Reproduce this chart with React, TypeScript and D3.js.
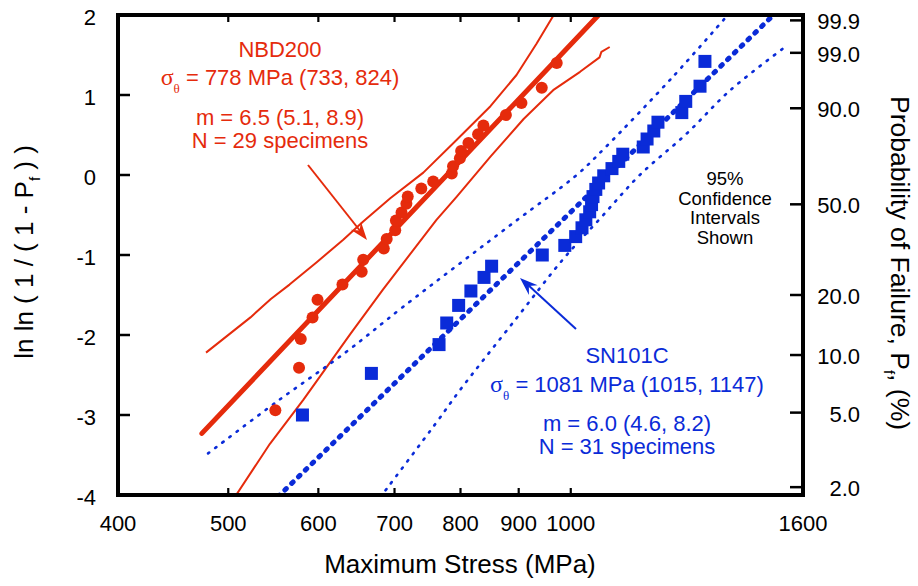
import React from 'react';
import * as d3 from 'd3';

// ---------- axes ----------
const xTickValues = [400, 500, 600, 700, 800, 900, 1000, 1600];
const yTickValues = [-4, -3, -2, -1, 0, 1, 2];
const probTickValues = [99.9, 99.0, 90.0, 50.0, 20.0, 10.0, 5.0, 2.0];

// ---------- NBD200 (red circles) : stress (MPa), ln ln(1/(1-Pf)) ----------
const nbdStress = [550, 577, 579, 593, 599, 630, 655, 657, 685, 689, 701, 702, 710, 717, 719, 739, 757, 786, 788, 799, 801, 813, 829, 838, 877, 905, 943, 972];
const nbdLnLn = [-2.94, -2.41, -2.05, -1.78, -1.56, -1.37, -1.21, -1.06, -0.92, -0.80, -0.69, -0.57, -0.47, -0.36, -0.27, -0.17, -0.08, 0.02, 0.11, 0.21, 0.30, 0.40, 0.51, 0.62, 0.75, 0.90, 1.09, 1.40];
const nbdFit: [number, number][] = [[474, -3.23], [1058, 2.0]];
const nbdUpper: [number, number][] = [[478, -2.22], [523, -1.78], [545, -1.55], [566, -1.37], [598, -1.09], [631, -0.81], [657, -0.58], [694, -0.29], [742, 0.03], [794, 0.44], [850, 0.86], [896, 1.25], [933, 1.64], [968, 2.02]];
const nbdLower: [number, number][] = [[507, -4.02], [544, -3.36], [582, -2.81], [640, -1.99], [684, -1.43], [762, -0.56], [794, -0.27], [850, 0.23], [909, 0.70], [965, 1.06], [1019, 1.29], [1060, 1.47], [1064, 1.54], [1082, 1.60]];

// ---------- SN101C (blue squares) ----------
const snStress = [581, 668, 766, 778, 797, 817, 839, 852, 944, 988, 1010, 1023, 1031, 1039, 1043, 1046, 1052, 1058, 1069, 1087, 1102, 1111, 1158, 1167, 1183, 1193, 1252, 1262, 1299, 1312];
const snLnLn = [-3.00, -2.48, -2.12, -1.85, -1.63, -1.45, -1.28, -1.14, -1.00, -0.88, -0.77, -0.66, -0.56, -0.46, -0.37, -0.27, -0.18, -0.10, -0.01, 0.08, 0.17, 0.26, 0.35, 0.45, 0.55, 0.66, 0.78, 0.92, 1.11, 1.42];
const snFit: [number, number][] = [[553, -4.02], [1512, 2.02]];
const snUpper: [number, number][] = [[480, -3.48], [552, -2.83], [635, -2.21], [712, -1.65], [890, -0.60], [1012, 0.0], [1070, 0.33], [1230, 1.23], [1380, 2.03]];
const snLower: [number, number][] = [[680, -4.03], [765, -3.06], [799, -2.69], [896, -1.79], [985, -1.05], [1065, -0.52], [1150, 0.0], [1265, 0.52], [1381, 1.06], [1543, 1.60]];

const W = 918;
const H = 586;
const M = { left: 118, right: 803, top: 15, bottom: 495 };
const RED = '#e52b0c';
const BLUE = '#0a2bd8';
const FONT = "'Liberation Sans', Arial, Helvetica, sans-serif";
const SERIF = "'Liberation Serif', 'DejaVu Serif', serif";

function arrowHead(tx: number, ty: number, fx: number, fy: number, len = 18, half = 6.5, notch = 12) {
  const dx = tx - fx, dy = ty - fy;
  const L = Math.hypot(dx, dy);
  const ux = dx / L, uy = dy / L;
  const px = -uy, py = ux;
  const bx = tx - ux * len, by = ty - uy * len;
  const nx = tx - ux * notch, ny = ty - uy * notch;
  return `M${tx},${ty} L${bx + px * half},${by + py * half} L${nx},${ny} L${bx - px * half},${by - py * half} Z`;
}

export default function App() {
  const x = d3.scaleLog().domain([400, 1600]).range([M.left, M.right]);
  const y = d3.scaleLinear().domain([-4, 2]).range([M.bottom, M.top]);
  const toLnLn = (p: number) => Math.log(-Math.log(1 - p / 100));

  const straight = d3.line<[number, number]>().x(d => x(d[0])).y(d => y(d[1]));
  const smooth = d3.line<[number, number]>().x(d => x(d[0])).y(d => y(d[1])).curve(d3.curveCatmullRom);

  const redArrow = { fx: 308, fy: 165, tx: 367, ty: 240 };
  const blueArrow = { fx: 576, fy: 329, tx: 520, ty: 278 };

  return (
    <svg width={W} height={H} style={{ position: 'absolute', left: 0, top: 0, background: '#fff' }} fontFamily={FONT}>
      <defs>
        <clipPath id="plotClip">
          <rect x={M.left} y={M.top} width={M.right - M.left} height={M.bottom - M.top} />
        </clipPath>
      </defs>
      <rect x={0} y={0} width={W} height={H} fill="#fff" />

      <g clipPath="url(#plotClip)">
        {/* confidence bands NBD200 */}
        <path d={straight(nbdUpper) || ''} fill="none" stroke={RED} strokeWidth={2} strokeLinejoin="round" />
        <path d={straight(nbdLower) || ''} fill="none" stroke={RED} strokeWidth={2} strokeLinejoin="round" />
        {/* fit NBD200 */}
        <path d={straight(nbdFit) || ''} fill="none" stroke={RED} strokeWidth={5} strokeLinecap="round" />
        {/* confidence bands SN101C */}
        <path d={smooth(snUpper) || ''} fill="none" stroke={BLUE} strokeWidth={2.6} strokeLinecap="round" strokeDasharray="1.5 7.5" />
        <path d={smooth(snLower) || ''} fill="none" stroke={BLUE} strokeWidth={2.6} strokeLinecap="round" strokeDasharray="1.5 7.5" />
        {/* fit SN101C */}
        <path d={straight(snFit) || ''} fill="none" stroke={BLUE} strokeWidth={5} strokeLinecap="round" strokeDasharray="2 7.5" />

        {nbdStress.map((s, i) => (
          <circle key={'r' + i} cx={x(s)} cy={y(nbdLnLn[i])} r={6} fill={RED} />
        ))}
        {snStress.map((s, i) => (
          <rect key={'b' + i} x={x(s) - 6.5} y={y(snLnLn[i]) - 6.5} width={13} height={13} fill={BLUE} />
        ))}
      </g>

      {/* frame */}
      <rect x={M.left} y={M.top} width={M.right - M.left} height={M.bottom - M.top} fill="none" stroke="#000" strokeWidth={4} />

      {/* x ticks */}
      {xTickValues.map(v => (
        <g key={'xt' + v}>
          <line x1={x(v)} x2={x(v)} y1={M.bottom} y2={M.bottom - 7} stroke="#000" strokeWidth={2.2} />
          <line x1={x(v)} x2={x(v)} y1={M.top} y2={M.top + 7} stroke="#000" strokeWidth={2.2} />
          <text x={x(v)} y={531} textAnchor="middle" fontSize={22} fill="#000">{v}</text>
        </g>
      ))}

      {/* left y ticks */}
      {yTickValues.map(v => (
        <g key={'yt' + v}>
          <line x1={M.left} x2={M.left + 12} y1={y(v)} y2={y(v)} stroke="#000" strokeWidth={2.5} />
          <text x={96} y={y(v) + 9.5} textAnchor="end" fontSize={22} fill="#000">{v}</text>
        </g>
      ))}

      {/* right probability ticks */}
      {probTickValues.map(p => (
        <g key={'pt' + p}>
          <line x1={M.right - 13} x2={M.right} y1={y(toLnLn(p))} y2={y(toLnLn(p))} stroke="#000" strokeWidth={2.5} />
          <text x={860} y={y(toLnLn(p)) + 9} textAnchor="end" fontSize={22} fill="#000">{p.toFixed(1)}</text>
        </g>
      ))}

      {/* axis titles */}
      <text x={460} y={573} textAnchor="middle" fontSize={26} fill="#000">Maximum Stress (MPa)</text>
      <text transform="translate(33,252) rotate(-90)" textAnchor="middle" fontSize={26} fill="#000">
        ln ln ( 1 / ( 1 - P<tspan fontSize={15} dy={7}>f</tspan><tspan dy={-7}> ) )</tspan>
      </text>
      <text transform="translate(891,263) rotate(90)" textAnchor="middle" fontSize={26.5} fill="#000">
        Probability of Failure, P<tspan fontSize={15} dy={7}>f</tspan><tspan dy={-7}>, (%)</tspan>
      </text>

      {/* NBD200 annotation */}
      <g fill={RED} fontSize={22} textAnchor="middle">
        <text x={280} y={57}>NBD200</text>
        <text x={280} y={85}>
          <tspan fontFamily={SERIF} fontSize={24}>σ</tspan>
          <tspan fontFamily={SERIF} fontSize={13} dy={8}>θ</tspan>
          <tspan dy={-8}> = 778 MPa (733, 824)</tspan>
        </text>
        <text x={280} y={125}>m = 6.5 (5.1, 8.9)</text>
        <text x={280} y={148}>N = 29 specimens</text>
      </g>
      <line x1={redArrow.fx} y1={redArrow.fy} x2={redArrow.tx - 6} y2={redArrow.ty - 8} stroke={RED} strokeWidth={2} />
      <path d={arrowHead(redArrow.tx, redArrow.ty, redArrow.fx, redArrow.fy)} fill={RED} />

      {/* SN101C annotation */}
      <g fill={BLUE} fontSize={22} textAnchor="middle">
        <text x={627} y={363}>SN101C</text>
        <text x={627} y={392}>
          <tspan fontFamily={SERIF} fontSize={24}>σ</tspan>
          <tspan fontFamily={SERIF} fontSize={13} dy={8}>θ</tspan>
          <tspan dy={-8}> = 1081 MPa (1015, 1147)</tspan>
        </text>
        <text x={627} y={431}>m = 6.0 (4.6, 8.2)</text>
        <text x={627} y={454}>N = 31 specimens</text>
      </g>
      <line x1={blueArrow.fx} y1={blueArrow.fy} x2={blueArrow.tx + 7} y2={blueArrow.ty + 6} stroke={BLUE} strokeWidth={2} />
      <path d={arrowHead(blueArrow.tx, blueArrow.ty, blueArrow.fx, blueArrow.fy)} fill={BLUE} />

      {/* CI note */}
      <g fill="#000" fontSize={18.5} textAnchor="middle">
        <text x={725} y={185}>95%</text>
        <text x={725} y={204.5}>Confidence</text>
        <text x={725} y={224}>Intervals</text>
        <text x={725} y={243.5}>Shown</text>
      </g>
    </svg>
  );
}
